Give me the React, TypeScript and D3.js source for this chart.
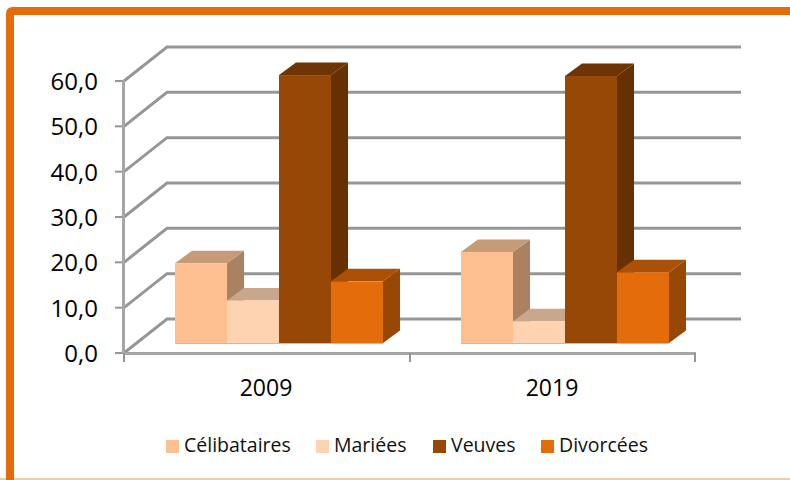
import React from "react";
import * as d3 from "d3";

const categories = ["2009", "2019"];
const seriesNames = ["Célibataires", "Mariées", "Veuves", "Divorcées"];
const values2009 = [17.6, 9.4, 59.1, 13.6];
const values2019 = [20.1, 4.8, 58.9, 15.6];
const yTicks = [0, 10, 20, 30, 40, 50, 60];
const colors = ["#fdbf8f", "#fdd3b2", "#974806", "#e46c0a"];
const topColors = ["#c59b78", "#c9a78d", "#6e3403", "#ab5107"];
const sideColors = ["#ab8261", "#ab8261", "#673001", "#974806"];
const legendX = [166, 316, 433, 541];

const W = 790, H = 480;
const font = "'Open Sans', sans-serif";
const y = d3.scaleLinear().domain([0, 60]).range([353, 81]);
const x0 = d3.scaleBand().domain(categories).range([124, 696]);
const depth = { dx: 43, dy: -34 };
const barDepth = { dx: 17, dy: -12.5 };
const barOffset = { dy: -10, dx: 12 };
const barW = 52;
const groupW = barW * 4;

export default function App() {
  const data = [values2009, values2019];
  return (
    <svg width={W} height={H} viewBox={`0 0 ${W} ${H}`} style={{ position: "fixed", left: 0, top: 0, background: "#fff" }}>
      <line x1={0} x2={W} y1={479} y2={479} stroke="#f0cba8" strokeWidth={2} />
      <path d="M10 480 V14 Q10 11 13 11 H790" fill="none" stroke="#e46c0a" strokeWidth={8} />

      {yTicks.map((t) => (
        <g key={t}>
          <polyline
            points={`${x0.range()[0]},${y(t)} ${x0.range()[0] + depth.dx},${y(t) + depth.dy} ${x0.range()[1] + depth.dx + 2},${y(t) + depth.dy}`}
            fill="none" stroke="#969696" strokeWidth={3} />
          <line x1={115} x2={124} y1={y(t)} y2={y(t)} stroke="#969696" strokeWidth={2} />
          <text x={98} y={y(t) + 9} textAnchor="end" fontFamily={font} fontSize={24} fill="#000">
            {d3.format(".1f")(t).replace(".", ",")}
          </text>
        </g>
      ))}
      <line x1={123.5} x2={123.5} y1={80} y2={354} stroke="#a6a6a6" strokeWidth={3} />
      <line x1={123} x2={696} y1={353.5} y2={353.5} stroke="#a6a6a6" strokeWidth={3} />
      {[124, 410, 695].map((tx) => (
        <line key={tx} x1={tx} x2={tx} y1={353} y2={362} stroke="#969696" strokeWidth={2} />
      ))}

      {categories.map((c, ci) => {
        const gx = x0(c)! + x0.bandwidth() / 2 - groupW / 2 + barOffset.dx;
        return (
          <g key={c}>
            {data[ci].map((v, i) => {
              const l = gx + i * barW, r = l + barW;
              const b = y(0) + barOffset.dy, t = y(v) + barOffset.dy;
              const dx = barDepth.dx, dy = barDepth.dy;
              return (
                <g key={i}>
                  <path d={`M${r} ${t} L${r + dx} ${t + dy} V${b + dy} L${r} ${b} Z`} fill={sideColors[i]} />
                  <path d={`M${l} ${t} L${l + dx} ${t + dy} H${r + dx} L${r} ${t} Z`} fill={topColors[i]} />
                  <rect x={l} y={t} width={barW} height={b - t} fill={colors[i]} />
                </g>
              );
            })}
            <line x1={gx} x2={gx + groupW} y1={y(0) + barOffset.dy + 0.5} y2={y(0) + barOffset.dy + 0.5} stroke="#bdbdbd" strokeWidth={1} />
            <text x={x0(c)! + x0.bandwidth() / 2 - 1} y={396} textAnchor="middle" fontFamily={font} fontSize={23} fill="#000">{c}</text>
          </g>
        );
      })}

      {seriesNames.map((s, i) => (
        <g key={s}>
          <rect x={legendX[i]} y={440} width={13} height={13} fill={colors[i]} />
          <text x={legendX[i] + 18} y={452} fontFamily={font} fontSize={19.5} fill="#111">{s}</text>
        </g>
      ))}
    </svg>
  );
}
